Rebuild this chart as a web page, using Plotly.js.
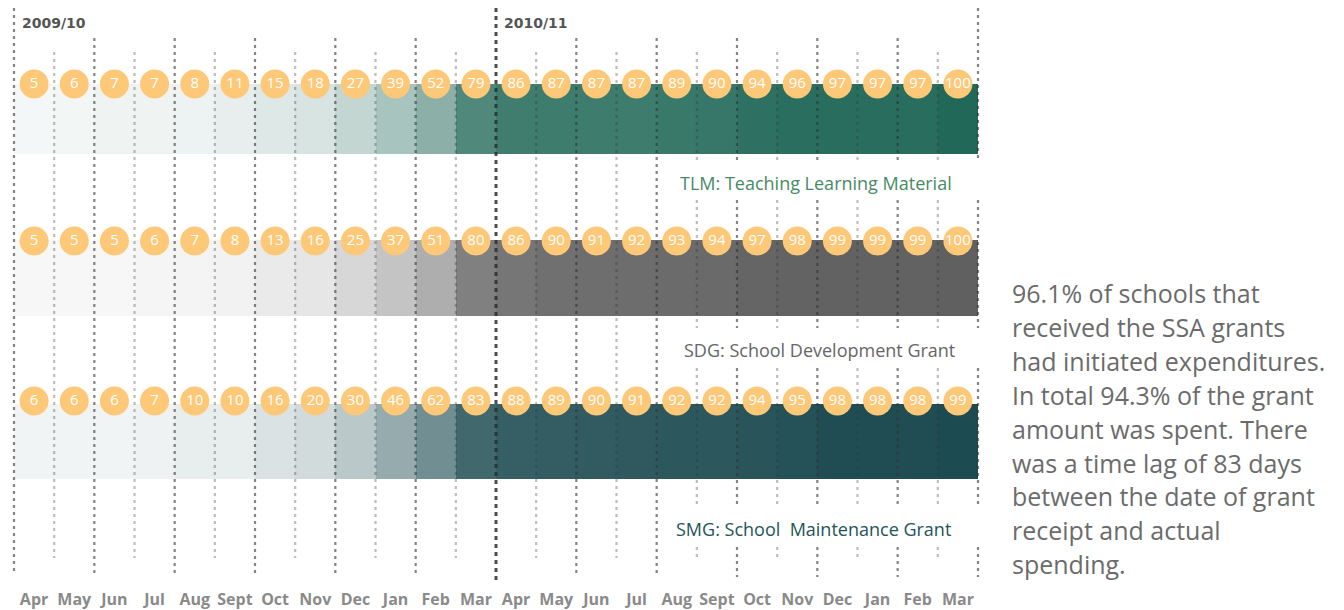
<!DOCTYPE html>
<html>
<head>
<meta charset="utf-8">
<script src="https://cdn.plot.ly/plotly-3.0.1.min.js"></script>
<style>
  html, body { margin: 0; padding: 0; background: #ffffff; }
  #chart { width: 1344px; height: 610px; }
</style>
</head>
<body>
<div id="chart"></div>
<script>
// ---------- data ----------
const months = ['Apr','May','Jun','Jul','Aug','Sept','Oct','Nov','Dec','Jan','Feb','Mar'];
const monthLabels = months.concat(months);
const years = ['2009/10', '2010/11'];
const tlm = [5,6,7,7,8,11,15,18,27,39,52,79,86,87,87,87,89,90,94,96,97,97,97,100];
const sdg = [5,5,5,6,7,8,13,16,25,37,51,80,86,90,91,92,93,94,97,98,99,99,99,100];
const smg = [6,6,6,7,10,10,16,20,30,46,62,83,88,89,90,91,92,92,94,95,98,98,98,99];
const seriesNames = ['TLM: Teaching Learning Material', 'SDG: School Development Grant', 'SMG: School\u00a0 Maintenance Grant'];
const noteLines = [
  '96.1% of schools that',
  'received the SSA grants',
  'had initiated expenditures.',
  'In total 94.3% of the grant',
  'amount was spent. There',
  'was a time lag of 83 days',
  'between the date of grant',
  'receipt and actual',
  'spending.'
];

// ---------- layout constants ----------
const W = 1344, H = 610;
const left = 14, right = 978;
const nCols = monthLabels.length;
const colW = (right - left) / nCols;
const x0 = -left / colW;
const x1 = x0 + W / colW;
const idx = monthLabels.map((_, i) => i + 0.5);

const rows = [
  { vals: tlm, top: 84,  bottom: 154, circY: 84,  base: 'rgb(33,104,88)', label: seriesNames[0], lx: 816, ly: 183, lc: '#468a66' },
  { vals: sdg, top: 240, bottom: 316, circY: 241, base: 'rgb(96,96,96)',  label: seriesNames[1], lx: 819, ly: 350, lc: '#666666' },
  { vals: smg, top: 404, bottom: 479, circY: 401, base: 'rgb(26,73,79)',  label: seriesNames[2], lx: 813, ly: 529, lc: '#1f5459' }
];

const traces = [];
// bars
rows.forEach(r => {
  traces.push({
    type: 'bar',
    x: idx,
    y: idx.map(() => r.bottom - r.top),
    base: r.top,
    width: 1,
    marker: { color: r.vals, colorscale: [[0, '#ffffff'], [1, r.base]], cmin: 0, cmax: 100, showscale: false, line: { width: 0 } },
    hoverinfo: 'skip'
  });
});

// dashed grid lines
const gaps = [[160, 200], [328, 368], [505, 547]];
function segs(top, bottom, withGaps) {
  const out = [];
  let cur = top;
  if (withGaps) {
    gaps.forEach(g => { out.push([cur, g[0]]); cur = g[1]; });
  }
  out.push([cur, bottom]);
  return out;
}
const styles = {
  even: { x: [], y: [], color: 'rgba(50,50,50,0.6)', width: 2.2, dash: '3px,4px' },
  odd:  { x: [], y: [], color: 'rgba(50,50,50,0.32)', width: 2.2, dash: '3px,4px' },
  tall: { x: [], y: [], color: 'rgba(50,50,50,0.6)', width: 2.2, dash: '3px,4px' },
  year: { x: [], y: [], color: 'rgba(45,45,45,0.85)', width: 3, dash: '4px,4px' }
};
for (let i = 0; i <= nCols; i++) {
  let st, top, bottom;
  if (i === 12) { st = styles.year; top = 8; bottom = 583; }
  else if (i === 0 || i === nCols) { st = styles.tall; top = 8; bottom = (i === 0 ? 575 : 577); }
  else if (i % 2 === 0) { st = styles.even; top = 38; bottom = 577; }
  else { st = styles.odd; top = 52; bottom = 558; }
  segs(top, bottom, i >= 17).forEach(s => {
    st.x.push(i, i, null);
    st.y.push(s[0], s[1], null);
  });
}
Object.values(styles).forEach(st => {
  traces.push({
    type: 'scatter', mode: 'lines', x: st.x, y: st.y,
    line: { color: st.color, width: st.width, dash: st.dash },
    hoverinfo: 'skip', connectgaps: false
  });
});

// circles with values
rows.forEach(r => {
  traces.push({
    type: 'scatter', mode: 'markers+text',
    x: idx, y: idx.map(() => r.circY),
    marker: { size: 29, color: '#fdc878', line: { width: 0 } },
    text: r.vals.map(String),
    textposition: 'middle center',
    textfont: { family: 'Open Sans, sans-serif', size: 15, color: '#ffffff' },
    hoverinfo: 'skip', cliponaxis: false
  });
});

// month labels
traces.push({
  type: 'scatter', mode: 'text',
  x: idx, y: idx.map(() => 601),
  text: monthLabels,
  textposition: 'middle center',
  textfont: { family: 'Open Sans, sans-serif', size: 16, color: '#8a8a8a', weight: 700 },
  hoverinfo: 'skip', cliponaxis: false
});

const annotations = [];
// year labels
years.forEach((yr, k) => {
  annotations.push({
    xref: 'x', yref: 'y', x: k * 12 + 0.14, y: 23,
    xanchor: 'left', yanchor: 'middle', showarrow: false,
    text: '<b>' + yr + '</b>',
    font: { family: 'DejaVu Sans, sans-serif', size: 14, color: '#555555' }
  });
});
// series labels
rows.forEach(r => {
  annotations.push({
    xref: 'paper', yref: 'y', x: r.lx / W, y: r.ly,
    xanchor: 'center', yanchor: 'middle', showarrow: false,
    text: r.label,
    font: { family: 'Open Sans, sans-serif', size: 18, color: r.lc }
  });
});
// note paragraph
noteLines.forEach((t, k) => {
  annotations.push({
    xref: 'paper', yref: 'y', x: 1010 / W, y: 293 + k * 33.9,
    xanchor: 'left', yanchor: 'middle', showarrow: false,
    text: t,
    font: { family: 'Open Sans, sans-serif', size: 25, color: '#6b6b6b' }
  });
});

const layout = {
  width: W, height: H,
  margin: { l: 0, r: 0, t: 0, b: 0, pad: 0 },
  paper_bgcolor: '#ffffff', plot_bgcolor: '#ffffff',
  showlegend: false,
  barmode: 'overlay', bargap: 0,
  xaxis: { range: [x0, x1], visible: false, fixedrange: true },
  yaxis: { range: [H, 0], visible: false, fixedrange: true },
  annotations: annotations,
  hovermode: false
};

Plotly.newPlot('chart', traces, layout, { staticPlot: true, displayModeBar: false });
</script>
</body>
</html>
